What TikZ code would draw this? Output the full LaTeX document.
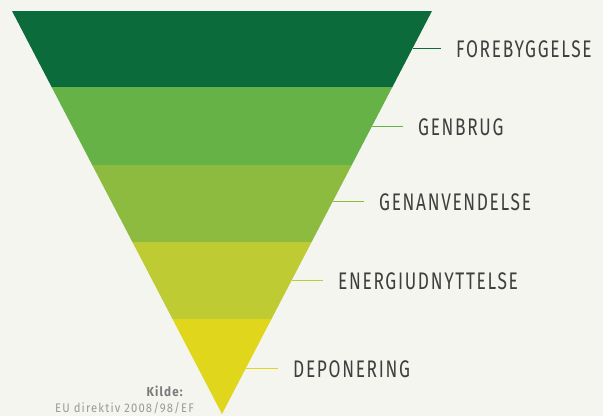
\documentclass[tikz,border=0pt]{standalone}
\usepackage{fontspec}
\setmainfont{Fira Sans}
\newfontfamily\labelfont{Fira Sans}[FakeStretch=0.72,LetterSpace=7]
\newfontfamily\srcfont{Fira Sans}[FakeStretch=0.9,LetterSpace=9]
\definecolor{bg}{HTML}{F5F5F0}
\definecolor{bandA}{HTML}{0B6B3A}
\definecolor{bandB}{HTML}{67B246}
\definecolor{bandC}{HTML}{8DBB3F}
\definecolor{bandD}{HTML}{BFCB33}
\definecolor{bandE}{HTML}{E0D71C}
\definecolor{txt}{HTML}{3F3F3F}
\definecolor{src}{HTML}{9A9A9A}
\definecolor{srcb}{HTML}{7A7A7A}
\tikzset{
  lbl/.style={anchor=west,inner sep=0pt,text=txt,font=\labelfont\fontsize{24}{24}\selectfont},
  conn/.style={line width=1pt,shorten >=15pt},
}
\begin{document}
\begin{tikzpicture}[x=1pt,y=-1pt]
\fill[bg] (0,0) rectangle (603,416);
\useasboundingbox (0,0) rectangle (603,416);
% bands
\fill[bandA] (12,11) -- (432,11) -- (392.4,87) -- (51.6,87) -- cycle;
\fill[bandB] (51.6,87) -- (392.4,87) -- (351.8,165) -- (92.2,165) -- cycle;
\fill[bandC] (92.2,165) -- (351.8,165) -- (311.6,242) -- (132.4,242) -- cycle;
\fill[bandD] (132.4,242) -- (311.6,242) -- (271.5,319) -- (172.5,319) -- cycle;
\fill[bandE] (172.5,319) -- (271.5,319) -- (222,414) -- cycle;
% edge points
\coordinate (e1) at (412.7,48);
\coordinate (e2) at (372.1,126);
\coordinate (e3) at (333.0,201);
\coordinate (e4) at (291.9,280);
\coordinate (e5) at (246.0,368);
% labels
\node[lbl] (l1) at (456,49) {FOREBYGGELSE};
\node[lbl] (l2) at (418,127) {GENBRUG};
\node[lbl] (l3) at (379,202) {GENANVENDELSE};
\node[lbl] (l4) at (338,281) {ENERGIUDNYTTELSE};
\node[lbl] (l5) at (293,369) {DEPONERING};
\draw[conn,bandA] (e1) -- (e1 -| l1.west);
\draw[conn,bandB] (e2) -- (e2 -| l2.west);
\draw[conn,bandC] (e3) -- (e3 -| l3.west);
\draw[conn,bandD] (e4) -- (e4 -| l4.west);
\draw[conn,bandE] (e5) -- (e5 -| l5.west);
% source
\node[anchor=east,inner sep=0pt,text=srcb,font=\srcfont\bfseries\fontsize{13}{13}\selectfont] (k) at (183,391) {Kilde:};
\node[anchor=west,inner sep=0pt,text=src,font=\srcfont\fontsize{12.5}{12.5}\selectfont] (eu) at (55,408) {EU direktiv 2008/98/EF};
\end{tikzpicture}
\end{document}
